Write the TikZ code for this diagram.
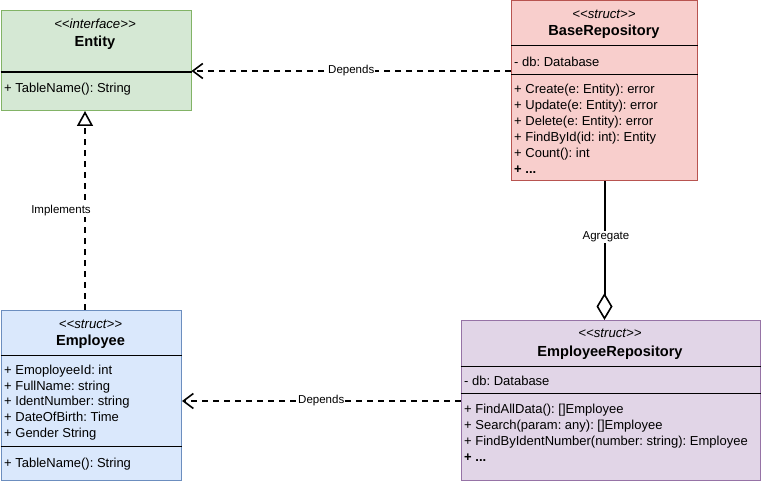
\documentclass[tikz,border=0pt]{standalone}
\usepackage{fontspec}
\setmainfont{Liberation Sans}
\usetikzlibrary{arrows.meta}
\frenchspacing
\definecolor{gfill}{HTML}{D5E8D4}
\definecolor{gline}{HTML}{82B366}
\definecolor{rfill}{HTML}{F8CECC}
\definecolor{rline}{HTML}{B85450}
\definecolor{bfill}{HTML}{DAE8FC}
\definecolor{bline}{HTML}{6C8EBF}
\definecolor{pfill}{HTML}{E1D5E7}
\definecolor{pline}{HTML}{9673A6}
\begin{document}
\frenchspacing
\begin{tikzpicture}[x=1pt,y=-1pt,
  cls/.style={draw, line width=1pt, inner sep=0pt, anchor=north west},
  stereo/.style={inner sep=0pt, anchor=mid, yshift=-2.5pt, font=\fontsize{13.2}{16}\selectfont\itshape},
  cname/.style={inner sep=0pt, anchor=mid, yshift=-2.5pt, font=\fontsize{14.6}{17}\selectfont\bfseries},
  member/.style={inner sep=0pt, anchor=mid west, yshift=-2.5pt, font=\fontsize{13}{16}\selectfont},
  divider/.style={line width=1pt, draw=black},
  lbl/.style={fill=white, inner sep=1pt, font=\fontsize{11.5}{13}\selectfont},
  dep/.style={line width=2pt, dash pattern=on 6pt off 5pt, -{Straight Barb[length=10pt,width=15pt,line width=1.6pt]}},
  impl/.style={line width=2pt, dash pattern=on 6pt off 5pt, -{Triangle[length=15pt,width=16pt,fill=white,line width=1.6pt]}},
  aggr/.style={line width=2pt, -{Diamond[length=27pt,width=16pt,fill=white,line width=1.6pt]}}
]
\useasboundingbox (0,0) rectangle (761,481);

% ---------- Entity ----------
\node[cls, fill=gfill, draw=gline, minimum width=190pt, minimum height=100pt] (ent) at (0.5,10) {};
\draw[line width=2pt] (ent.west |- 0,72) -- (ent.east |- 0,72);
\node[stereo] (ent-st) at (95,23) {{<}{<}interface{>}{>}};
\node[cname] (ent-nm) at (95,41) {Entity};
\node[member] (ent-m1) at (4,87) {+ TableName(): String};

% ---------- BaseRepository ----------
\node[cls, fill=rfill, draw=rline, minimum width=186pt, minimum height=180pt] (base) at (511,0.5) {};
\draw[divider] (base.west |- 0,45.5) -- (base.east |- 0,45.5);
\draw[divider] (base.west |- 0,75) -- (base.east |- 0,75);
\node[stereo] (base-st) at (604,13) {{<}{<}struct{>}{>}};
\node[cname] (base-nm) at (604,30) {BaseRepository};
\node[member] (base-a1) at (514,61) {- db: Database};
\node[member] (base-m1) at (514,88.5) {+ Create(e: Entity): error};
\node[member] (base-m2) at (514,104) {+ Update(e: Entity): error};
\node[member] (base-m3) at (514,120) {+ Delete(e: Entity): error};
\node[member] (base-m4) at (514,136) {+ FindById(id: int): Entity};
\node[member] (base-m5) at (514,152) {+ Count(): int};
\node[member, font=\fontsize{13}{16}\selectfont\bfseries] (base-m6) at (514,168) {+ ...};

% ---------- Employee ----------
\node[cls, fill=bfill, draw=bline, minimum width=180.5pt, minimum height=170pt] (emp) at (0.5,310) {};
\draw[divider] (emp.west |- 0,355) -- (emp.east |- 0,355);
\draw[divider] (emp.west |- 0,446) -- (emp.east |- 0,446);
\node[stereo] (emp-st) at (90.5,323) {{<}{<}struct{>}{>}};
\node[cname] (emp-nm) at (90.5,340) {Employee};
\node[member] (emp-a1) at (4,369) {+ EmoployeeId: int};
\node[member] (emp-a2) at (4,385) {+ FullName: string};
\node[member] (emp-a3) at (4,400.5) {+ IdentNumber: string};
\node[member] (emp-a4) at (4,416) {+ DateOfBirth: Time};
\node[member] (emp-a5) at (4,432) {+ Gender String};
\node[member] (emp-m1) at (4,462) {+ TableName(): String};

% ---------- EmployeeRepository ----------
\node[cls, fill=pfill, draw=pline, minimum width=299.5pt, minimum height=160pt] (erep) at (460.5,320) {};
\draw[divider] (erep.west |- 0,366) -- (erep.east |- 0,366);
\draw[divider] (erep.west |- 0,393.5) -- (erep.east |- 0,393.5);
\node[stereo] (erep-st) at (610,332) {{<}{<}struct{>}{>}};
\node[cname] (erep-nm) at (610,351) {EmployeeRepository};
\node[member] (erep-a1) at (464,380.5) {- db: Database};
\node[member] (erep-m1) at (464,408.5) {+ FindAllData(): []Employee};
\node[member] (erep-m2) at (464,424.5) {+ Search(param: any): []Employee};
\node[member] (erep-m3) at (464,440) {+ FindByIdentNumber(number: string): Employee};
\node[member, font=\fontsize{13}{16}\selectfont\bfseries] (erep-m4) at (464,456) {+ ...};

% ---------- Connectors ----------
\coordinate (dep1) at (0,71);
\coordinate (dep2) at (0,401);
\coordinate (implx) at (85,0);

\draw[dep] (base.west |- dep1) -- node[lbl] (lbl-dep1) {Depends} (ent.east |- dep1);
\draw[dep] (erep.west |- dep2) -- node[lbl] (lbl-dep2) {Depends} (emp.east |- dep2);
\draw[impl] (emp.north -| implx) -- (ent.south -| implx);
\node[lbl] (lbl-impl) at (61,211) {Implements};
\draw[aggr] (base.south) -- (erep.north -| base.south);
\node[lbl] (lbl-aggr) at (606,237) {Agregate};
\end{tikzpicture}
\end{document}
